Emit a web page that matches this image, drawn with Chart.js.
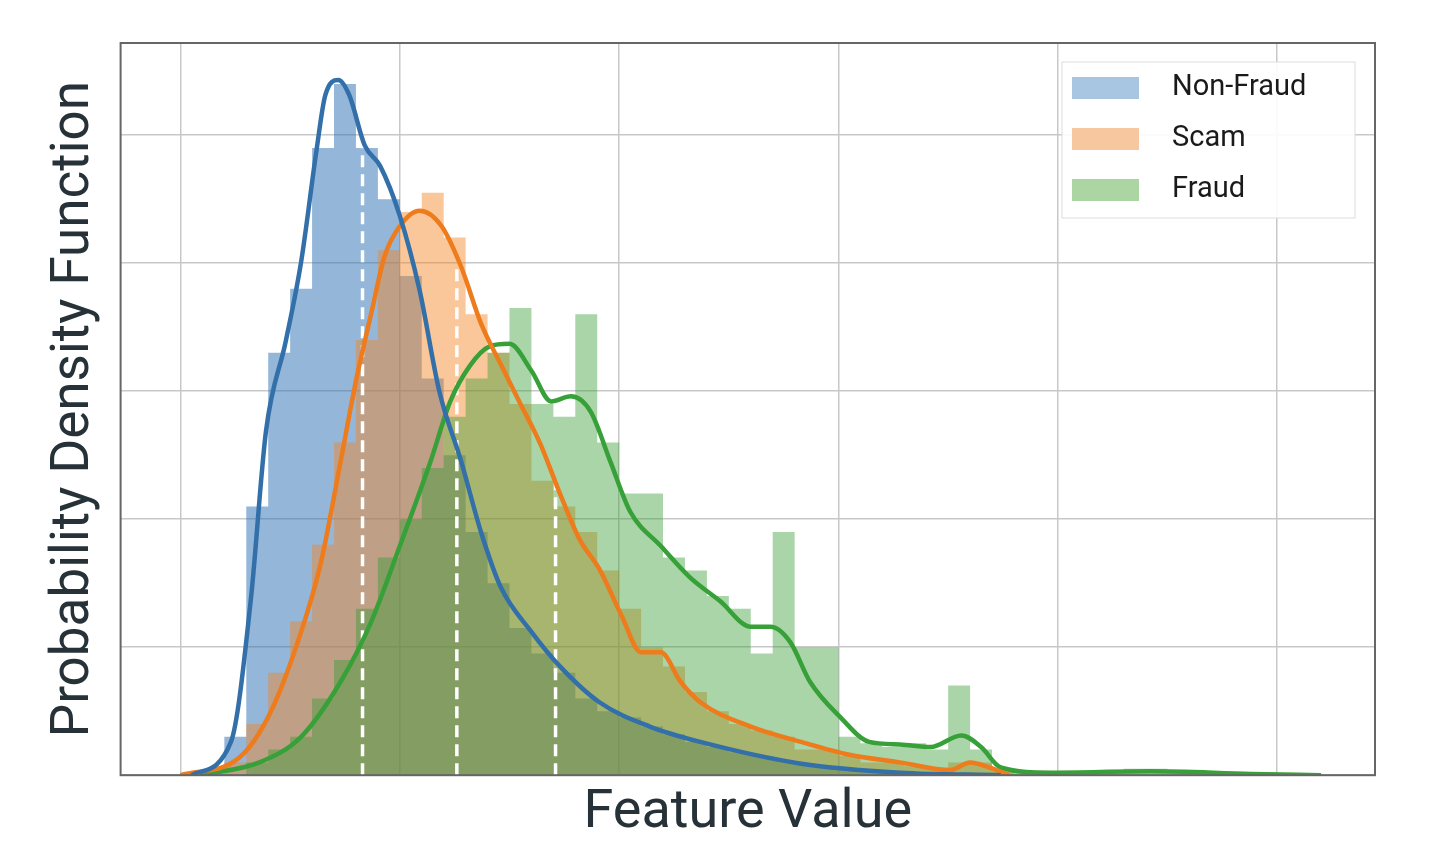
<!DOCTYPE html>
<html><head><meta charset="utf-8">
<script src="https://cdn.jsdelivr.net/npm/chart.js@4.4.1/dist/chart.umd.min.js"></script>
<style>html,body{margin:0;padding:0;background:#fff}#w{width:1430px;height:856px}</style>
</head><body><div id="w"><canvas id="c"></canvas></div>
<script>
const seriesNames = ['Non-Fraud','Scam','Fraud'];
// histogram bin centers (bin width 0.1) and heights
const binCenters = Array.from({length:52},(_, k)=>+(k*0.1+0.05).toFixed(2));
const histNonFraud = [0,0.05,0.3,2.1,3.3,3.8,4.9,5.4,4.9,4.5,3.9,3.1,2.5,1.9,1.5,1.15,0.95,0.8,0.6,0.5,0.45,0.38,0.32,0.26,0.22,0.18,0.15,0.11,0.09,0.06,0.05,0.03,0.02,0,0,0,0,0,0,0,0,0,0,0,0,0,0,0,0,0,0,0];
const histScam = [0,0,0.1,0.4,0.8,1.2,1.8,2.6,3.4,4.1,4.4,4.55,4.2,3.6,3.3,2.9,2.3,2.1,1.9,1.6,1.3,1.0,0.85,0.65,0.5,0.4,0.35,0.3,0.2,0.2,0.15,0.1,0.1,0.07,0.05,0.1,0.1,0.03,0,0,0,0,0,0,0,0,0,0,0,0,0,0];
const histFraud = [0,0,0,0.1,0.2,0.3,0.6,0.9,1.3,1.7,2.0,2.4,2.8,3.1,3.3,3.65,2.9,2.8,3.6,2.6,2.2,2.2,1.7,1.6,1.4,1.3,0.95,1.9,1.0,1.0,0.3,0.25,0.22,0.25,0.2,0.7,0.2,0.05,0.02,0.02,0.02,0.03,0.03,0.05,0.05,0.02,0.02,0.02,0.02,0.02,0.01,0];
// KDE curves
const kdeNonFraudX = [0.05,0.23,0.32,0.39,0.48,0.55,0.62,0.66,0.72,0.77,0.84,0.91,1.0,1.09,1.18,1.28,1.37,1.46,1.6,1.73,1.91,2.14,2.37,2.83,3.28,3.74];
const kdeNonFraudY = [0,0.26,1.36,2.69,3.39,4.01,4.88,5.31,5.43,5.31,4.92,4.76,4.37,3.79,3.0,2.45,1.9,1.47,1.12,0.85,0.57,0.38,0.26,0.09,0.02,0];
const kdeScamX = [0,0.27,0.41,0.55,0.64,0.73,0.8,0.87,0.93,1.0,1.09,1.19,1.28,1.37,1.46,1.55,1.64,1.73,1.82,1.91,2.01,2.10,2.19,2.28,2.37,2.6,2.83,3.05,3.28,3.51,3.6,3.69,3.78];
const kdeScamY = [0,0.14,0.49,1.12,1.66,2.45,3.08,3.61,4.05,4.29,4.41,4.29,3.97,3.53,3.21,2.9,2.59,2.2,1.84,1.61,1.25,0.96,0.96,0.73,0.57,0.38,0.26,0.16,0.10,0.04,0.10,0.06,0];
const kdeFraudX = [0.09,0.36,0.55,0.73,0.87,1.0,1.14,1.23,1.32,1.41,1.5,1.6,1.69,1.78,1.87,1.96,2.05,2.19,2.32,2.46,2.6,2.69,2.78,2.87,3.01,3.14,3.28,3.42,3.56,3.65,3.74,3.97,4.42,4.88,5.2];
const kdeFraudY = [0,0.1,0.3,0.73,1.2,1.79,2.45,2.92,3.2,3.35,3.37,3.16,2.92,2.96,2.84,2.45,2.06,1.79,1.55,1.36,1.16,1.16,1.04,0.73,0.45,0.26,0.24,0.22,0.31,0.22,0.06,0.02,0.03,0.01,0];
// quartile markers
const quartileX = [0.83,1.26,1.71];
const quartileY = [5.08,4.0,2.3];

const fills = ['rgba(40,110,180,0.5)','rgba(245,130,30,0.45)','rgba(50,155,50,0.42)'];
const legendFills = ['#a8c6e2','#f7c7a0','#acd5a4'];
const lines = ['#3370aa','#ee7b1c','#38a038'];

function histData(h){const d=[{x:binCenters[0]-0.05,y:0}];binCenters.forEach((c,i)=>d.push({x:c,y:h[i]}));d.push({x:binCenters[binCenters.length-1]+0.05,y:0});return d;}
function xy(xs,ys){return xs.map((x,i)=>({x,y:ys[i]}));}

const datasets=[];
[histNonFraud,histScam,histFraud].forEach((h,i)=>datasets.push({label:seriesNames[i],data:histData(h),stepped:'middle',fill:'origin',backgroundColor:fills[i],borderWidth:0,pointRadius:0,order:4-i}));
quartileX.forEach((q,i)=>datasets.push({label:'q'+i,data:[{x:q,y:0},{x:q,y:quartileY[i]}],borderColor:'#fff',borderWidth:3.5,borderDash:[12,7],pointRadius:0,fill:false,order:1}));
[[kdeNonFraudX,kdeNonFraudY],[kdeScamX,kdeScamY],[kdeFraudX,kdeFraudY]].forEach((k,i)=>datasets.push({label:'kde'+i,data:xy(k[0],k[1]),borderColor:lines[i],borderWidth:4.5,tension:0.4,cubicInterpolationMode:'monotone',pointRadius:0,fill:false,order:0}));

const legendPlugin={id:'lg',afterDraw(ch){const c=ch.ctx;c.save();
 const x0=1062,y0=62,w=293,h=156;c.fillStyle='rgba(255,255,255,0.9)';c.fillRect(x0,y0,w,h);c.strokeStyle='#ddd';c.lineWidth=1;c.strokeRect(x0,y0,w,h);
 c.font='29px Roboto';c.textBaseline='middle';
 seriesNames.forEach((n,i)=>{const cy=88+i*51;c.fillStyle=legendFills[i];c.fillRect(1072,cy-11,67,22);c.fillStyle='#1a1a1a';c.fillText(n,1172,cy);});
 c.restore();}};
const framePlugin={id:'fr',afterDraw(ch){const a=ch.chartArea,c=ch.ctx;c.save();c.strokeStyle='#666';c.lineWidth=2;c.strokeRect(a.left,a.top,a.right-a.left,a.bottom-a.top);c.restore();}};

new Chart(document.getElementById('c'),{type:'line',data:{datasets},
 options:{responsive:true,maintainAspectRatio:false,animation:false,
  layout:{padding:{top:43,right:55,left:43,bottom:10}},
  plugins:{legend:{display:false},tooltip:{enabled:false}},
  scales:{
   x:{type:'linear',min:-0.273,max:5.446,afterBuildTicks:s=>{s.ticks=[0,1,2,3,4,5].map(v=>({value:v}));},
      ticks:{display:false},grid:{color:'#c8c8c8',lineWidth:1.5,drawTicks:false},border:{display:false},
      title:{display:true,text:'Feature Value',font:{family:'Roboto',size:54},color:'#263238',padding:{top:6,bottom:0}}},
   y:{min:0,max:5.72,afterBuildTicks:s=>{s.ticks=[0,1,2,3,4,5].map(v=>({value:v}));},
      ticks:{display:false},grid:{color:'#c8c8c8',lineWidth:1.5,drawTicks:false},border:{display:false},
      title:{display:true,text:'Probability Density Function',font:{family:'Roboto',size:53},color:'#263238',padding:{top:0,bottom:14}}}
  }},plugins:[legendPlugin,framePlugin]});
</script></body></html>
